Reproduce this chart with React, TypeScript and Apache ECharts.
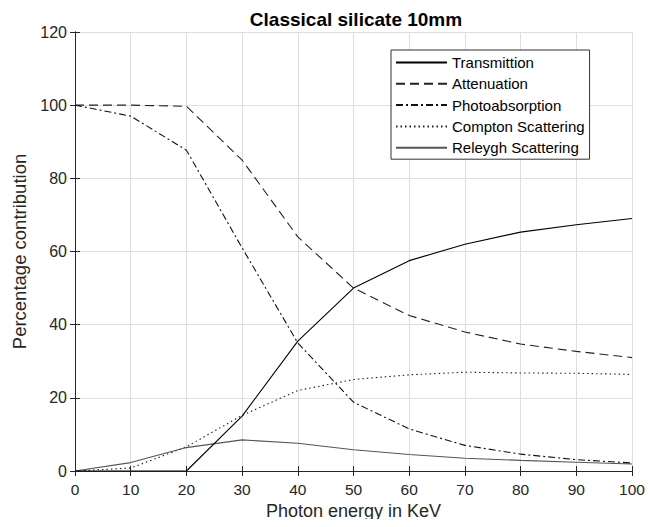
import React, { useEffect, useRef } from "react";
import * as echarts from "echarts";

const energy = [0, 10, 20, 30, 40, 50, 60, 70, 80, 90, 100];
const transmittion = [0, 0, 0, 15, 35.5, 50, 57.5, 62, 65.3, 67.3, 69];
const attenuation = [100, 100, 99.7, 85, 64, 50, 42.5, 38, 34.7, 32.7, 31];
const photoabsorption = [100, 97, 87.7, 61, 35, 18.8, 11.5, 7, 4.6, 3.1, 2.2];
const compton = [0, 0.8, 6.6, 15.2, 22, 25, 26.3, 27, 26.8, 26.7, 26.4];
const releygh = [0, 2.3, 6.4, 8.5, 7.6, 5.8, 4.5, 3.5, 2.9, 2.4, 1.9];

const seriesNames = [
  "Transmittion",
  "Attenuation",
  "Photoabsorption",
  "Compton Scattering",
  "Releygh Scattering",
];

const FONT = "Liberation Sans, Arial, sans-serif";

export default function App() {
  const ref = useRef<HTMLDivElement>(null);
  useEffect(() => {
    if (!ref.current) return;
    const chart = echarts.init(ref.current, undefined, { renderer: "svg" });
    const pairs = (arr: number[]) => energy.map((x, i) => [x, arr[i]]);
    const axisCol = "#262626";
    const mk = (name: string, data: number[], color: string, type: any, z = 2) => ({
      name,
      type: "line",
      data: pairs(data),
      symbol: "none",
      z,
      lineStyle: { color, width: 1.1, type },
      itemStyle: { color },
    });
    const baseX = {
      type: "value",
      min: 0,
      max: 100,
      interval: 10,
      axisLine: { show: true, lineStyle: { color: axisCol, width: 1 } },
      axisTick: { show: true, inside: true, length: 5, lineStyle: { color: axisCol } },
    };
    const baseY = {
      type: "value",
      min: 0,
      max: 120,
      interval: 20,
      axisLine: { show: true, lineStyle: { color: axisCol, width: 1 } },
      axisTick: { show: true, inside: true, length: 5, lineStyle: { color: axisCol } },
    };
    chart.setOption({
      animation: false,
      backgroundColor: "#ffffff",
      title: {
        text: "Classical silicate 10mm",
        left: 351,
        textAlign: "center",
        top: 5,
        textStyle: { fontFamily: FONT, fontSize: 19, fontWeight: "bold", color: "#000" },
      },
      grid: { left: 75, right: 27, top: 32, bottom: 56 },
      legend: {
        orient: "vertical",
        left: 391,
        top: 50,
        itemWidth: 51,
        itemHeight: 14,
        itemGap: 6.3,
        padding: [5, 5, 4, 4],
        borderColor: "#333",
        borderWidth: 1,
        backgroundColor: "#fff",
        itemStyle: { opacity: 0 },
        textStyle: { fontFamily: FONT, fontSize: 15, color: "#000", padding: [0, 0, 0, 0] },
        data: seriesNames,
      },
      xAxis: [
        {
          ...baseX,
          position: "bottom",
          name: "Photon energy in KeV",
          nameLocation: "middle",
          nameGap: 27,
          nameTextStyle: { fontFamily: FONT, fontSize: 18, color: axisCol },
          axisLabel: { fontFamily: FONT, fontSize: 15.5, color: axisCol, margin: 10 },
          splitLine: { show: true, lineStyle: { color: "#dedede", width: 1 } },
        },
        {
          ...baseX,
          position: "top",
          axisLabel: { show: false },
          splitLine: { show: false },
        },
      ],
      yAxis: [
        {
          ...baseY,
          position: "left",
          name: "Percentage contribution",
          nameLocation: "middle",
          nameGap: 41,
          nameTextStyle: { fontFamily: FONT, fontSize: 18.5, color: axisCol },
          axisLabel: { fontFamily: FONT, fontSize: 16, color: axisCol, margin: 8 },
          splitLine: { show: true, lineStyle: { color: "#dedede", width: 1 } },
        },
        {
          ...baseY,
          position: "right",
          axisLabel: { show: false },
          splitLine: { show: false },
        },
      ],
      series: [
        mk(seriesNames[0], transmittion, "#000000", "solid", 5),
        mk(seriesNames[1], attenuation, "#222222", [9, 5], 4),
        mk(seriesNames[2], photoabsorption, "#111111", [7, 3, 2, 3], 4),
        mk(seriesNames[3], compton, "#222222", [1.5, 3], 3),
        mk(seriesNames[4], releygh, "#555555", "solid", 3),
      ],
    });
    return () => chart.dispose();
  }, []);
  return <div ref={ref} style={{ width: 659, height: 527, margin: -8 }} />;
}
